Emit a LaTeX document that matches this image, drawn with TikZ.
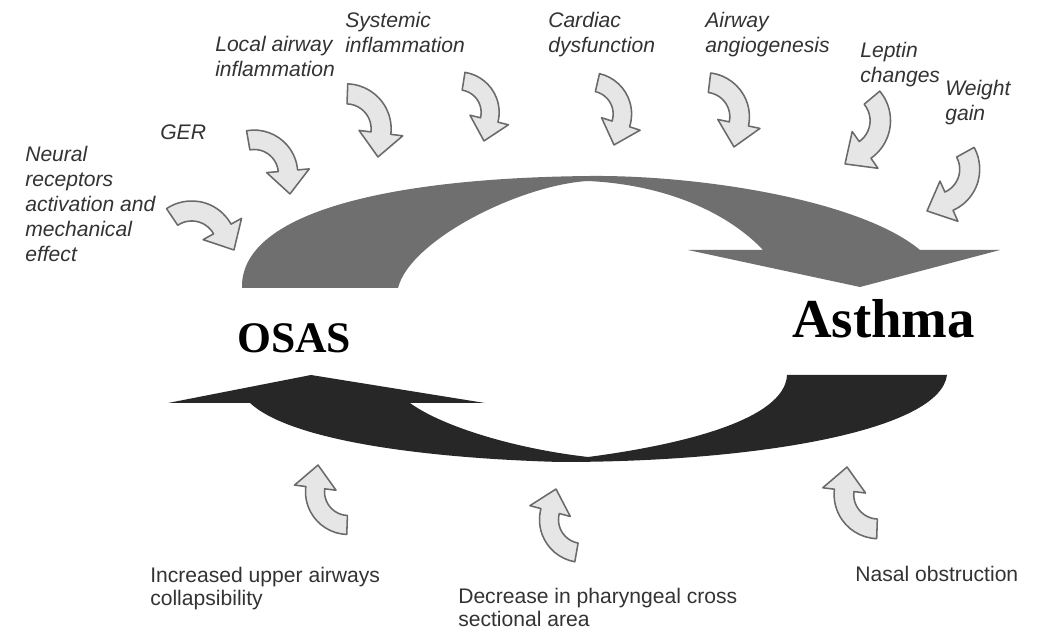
\documentclass[tikz,border=0pt]{standalone}
\usepackage{fontspec}
\setmainfont{Liberation Sans}
\newfontfamily\serifbold{Liberation Serif}
\usetikzlibrary{positioning}

\definecolor{topgray}{HTML}{6F6F6F}
\definecolor{botgray}{HTML}{272727}
\definecolor{arrowfill}{HTML}{E6E6E6}
\definecolor{arrowline}{HTML}{6A6A6A}
\definecolor{labelgray}{HTML}{333333}

\tikzset{
  smallarrow/.style={fill=arrowfill, draw=arrowline, line width=1.1pt, line join=round},
  cause/.style={font=\fontsize{15}{17.8}\selectfont\itshape, text=labelgray, align=left, inner sep=0pt, anchor=north west},
  effect/.style={font=\fontsize{15}{16.5}\selectfont, text=labelgray, align=left, inner sep=0pt, anchor=north west},
  disease/.style={font=\fontsize{31}{36}\selectfont\serifbold\bfseries, text=black, inner sep=0pt, anchor=north west},
  bendarrow/.pic={
    \begin{scope}[shift={(-37,20.9)}]
    \filldraw[smallarrow] (100:45) arc[start angle=100, end angle=5, radius=45]
      -- (5:57) -- (36.96,-20.86) -- (5:13) -- (5:25)
      arc[start angle=5, end angle=100, radius=25] -- cycle;
    \end{scope}
  }
}

\begin{document}
\begin{tikzpicture}[x=0.025cm, y=0.025cm]
\fill[white] (0,0) rectangle (1043,631);
\useasboundingbox (0,0) rectangle (1043,631);

% big arrow OSAS -> Asthma
\fill[topgray] (242,343) .. controls (240,416) and (380,453) .. (590,455)
  .. controls (700,456) and (860,431) .. (920,381)
  -- (1000,381) -- (860,344) -- (688,381) -- (763,381)
  .. controls (730,416) and (670,446) .. (588,450)
  .. controls (520,446) and (410,391) .. (398,343) -- cycle;

% big arrow Asthma -> OSAS
\fill[botgray] (250,228) -- (168,228) -- (311,256) -- (485,228) -- (410,228)
  .. controls (440,206) and (510,183) .. (588,174)
  .. controls (680,186) and (785,211) .. (787,256)
  -- (947,256)
  .. controls (940,201) and (760,169) .. (560,169)
  .. controls (420,173) and (290,191) .. (250,228) -- cycle;

% disease names
\node[disease] (osas) at (237,308) {OSAS};
\node[disease, font=\fontsize{39}{44}\selectfont\serifbold\bfseries] (asthma) at (792,332) {Asthma};

% mechanisms OSAS -> Asthma
\node[cause] (neural) at (25,485) {Neural\\receptors\\activation and\\mechanical\\effect};
\node[cause] (ger) at (160,507) {GER};
\node[cause] (local) at (215,595) {Local airway\\inflammation};
\node[cause] (systemic) at (345,619) {Systemic\\inflammation};
\node[cause] (cardiac) at (548,619) {Cardiac\\dysfunction};
\node[cause] (angio) at (705,619) {Airway\\angiogenesis};
\node[cause] (leptin) at (860,589) {Leptin\\changes};
\node[cause] (weight) at (945,551) {Weight\\gain};

\pic[rotate=24, scale=1.0] at (234,381) {bendarrow};
\pic[rotate=0, scale=0.97] at (290,437) {bendarrow};
\pic[rotate=-12, scale=1.0] at (378,474) {bendarrow};
\pic[rotate=-19, scale=0.9] at (484,490) {bendarrow};
\pic[rotate=-23, scale=0.92] at (614,486) {bendarrow};
\pic[rotate=-17, scale=0.98] at (734,484) {bendarrow};
\pic[rotate=-60, scale=1.02] at (845,467) {bendarrow};
\pic[rotate=-71, scale=1.0] at (927,420) {bendarrow};

% mechanisms Asthma -> OSAS
\node[effect] (collapse) at (150,64) {Increased upper airways\\collapsibility};
\node[effect] (pharynx) at (458,43) {Decrease in pharyngeal cross\\sectional area};
\node[effect] (nasal) at (855,65) {Nasal obstruction};

\pic[rotate=168, scale=0.95] at (318,166) {bendarrow};
\pic[rotate=160, scale=0.95] at (556,142) {bendarrow};
\pic[rotate=168, scale=0.98] at (847,164) {bendarrow};
\end{tikzpicture}
\end{document}
